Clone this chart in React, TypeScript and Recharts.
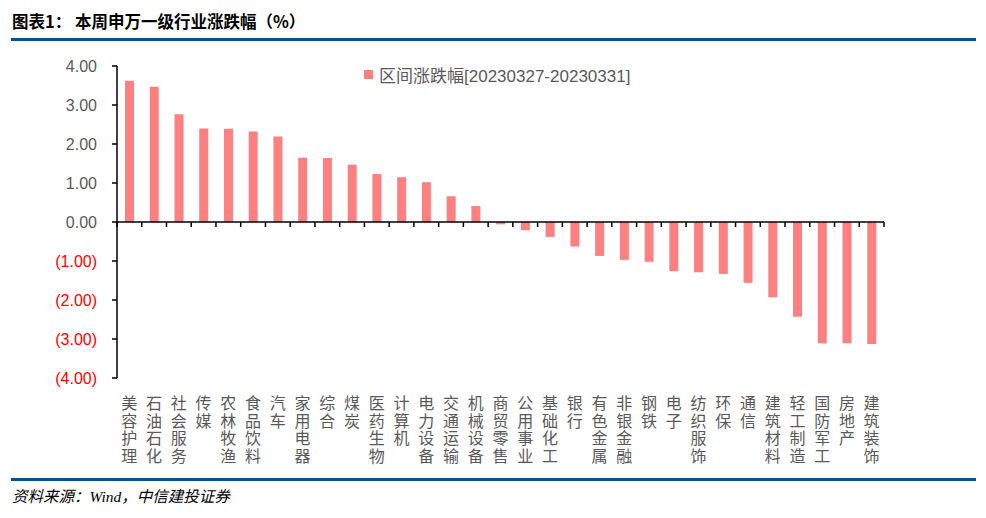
import React from "react";
import { BarChart, Bar, XAxis, YAxis, ReferenceLine } from "recharts";

const categories = [
  "美容护理", "石油石化", "社会服务", "传媒", "农林牧渔", "食品饮料", "汽车", "家用电器",
  "综合", "煤炭", "医药生物", "计算机", "电力设备", "交通运输", "机械设备", "商贸零售",
  "公用事业", "基础化工", "银行", "有色金属", "非银金融", "钢铁", "电子", "纺织服饰",
  "环保", "通信", "建筑材料", "轻工制造", "国防军工", "房地产", "建筑装饰",
];
const changes = [
  3.62, 3.47, 2.76, 2.4, 2.39, 2.32, 2.19, 1.65, 1.64, 1.47, 1.23, 1.15, 1.02, 0.66, 0.41,
  -0.06, -0.21, -0.38, -0.63, -0.87, -0.97, -1.02, -1.26, -1.29, -1.33, -1.56, -1.93, -2.43,
  -3.11, -3.11, -3.13,
];
const yTicks = [4, 3, 2, 1, 0, -1, -2, -3, -4];
const seriesName = "区间涨跌幅[20230327-20230331]";

const data = categories.map((name, i) => ({ name, value: changes[i] }));

const GRAY = "#595959";
const BAR = "#FF8080";
const BLUE = "#0B5087";
const LATIN = "'Liberation Sans', 'Noto Sans CJK SC', sans-serif";

function fmt(v: number) {
  return v < 0 ? `(${Math.abs(v).toFixed(2)})` : v.toFixed(2);
}

function YTick(props: any) {
  const { x, y, payload } = props;
  const v = payload.value as number;
  return (
    <text x={x} y={y} dy={6} textAnchor="end" fontSize={16} fontFamily={LATIN} fill={v < 0 ? "#FF0000" : GRAY}>
      {fmt(v)}
    </text>
  );
}

// one character per line, stacked under the category
function XTick(props: any) {
  const { x, y, payload } = props;
  const chars = String(payload.value).split("");
  return (
    <g>
      {chars.map((c, i) => (
        <text
          key={i}
          x={x}
          y={y + 31 + i * 17.5}
          textAnchor="middle"
          fontSize={16}
          fontFamily="'Noto Sans CJK SC', sans-serif"
          fill={GRAY}
        >
          {c}
        </text>
      ))}
    </g>
  );
}

function ZeroAxis(props: any) {
  const { x1, y1, x2, y2 } = props;
  const n = categories.length;
  const step = (x2 - x1) / n;
  const marks = [];
  for (let k = 0; k <= n; k++) {
    const tx = x1 + k * step;
    marks.push(<line key={k} x1={tx} x2={tx} y1={y1} y2={y1 + 5} stroke="#000" strokeWidth={1.5} />);
  }
  return (
    <g>
      <line x1={x1} y1={y1} x2={x2} y2={y2} stroke="#000" strokeWidth={1.5} />
      {marks}
    </g>
  );
}

export default function App() {
  return (
    <div style={{ position: "relative", width: 986, height: 518, margin: -8, background: "#fff", overflow: "hidden" }}>
      <div
        style={{
          position: "absolute",
          left: 12,
          top: 10,
          fontFamily: "'Noto Sans CJK SC', sans-serif",
          fontWeight: 700,
          fontSize: 16.5,
          color: "#000",
          lineHeight: "22px",
          whiteSpace: "nowrap",
        }}
      >
        图表1：&nbsp;本周申万一级行业涨跌幅（%）
      </div>
      <div style={{ position: "absolute", left: 11, top: 38, width: 965, height: 3, background: BLUE }} />

      <div style={{ position: "absolute", left: 0, top: 0 }}>
        <BarChart width={986} height={478} data={data} margin={{ top: 66, right: 102, bottom: 0, left: 0 }}>
          <YAxis
            width={117}
            domain={[-4, 4]}
            ticks={yTicks}
            interval={0}
            axisLine={{ stroke: "#000", strokeWidth: 1.5 }}
            tickLine={{ stroke: "#000", strokeWidth: 1.5 }}
            tickSize={5}
            tickMargin={15}
            tick={<YTick />}
          />
          <XAxis
            dataKey="name"
            height={100}
            interval={0}
            axisLine={false}
            tickLine={false}
            tickSize={0}
            tickMargin={0}
            tick={<XTick />}
          />
          <Bar dataKey="value" name={seriesName} fill={BAR} barSize={9} isAnimationActive={false} />
          <ReferenceLine y={0} shape={<ZeroAxis />} />
        </BarChart>
      </div>

      <div
        style={{
          position: "absolute",
          left: 364,
          top: 62,
          display: "flex",
          alignItems: "center",
          fontFamily: LATIN,
          fontSize: 17,
          color: GRAY,
          whiteSpace: "nowrap",
        }}
      >
        <span style={{ display: "inline-block", width: 9, height: 9, background: BAR, marginRight: 6 }} />
        <span>{seriesName}</span>
      </div>

      <div style={{ position: "absolute", left: 11, top: 478, width: 965, height: 2.5, background: BLUE }} />
      <div
        style={{
          position: "absolute",
          left: 12,
          top: 484,
          fontFamily: "'Liberation Serif', 'Noto Sans CJK SC', serif",
          fontStyle: "italic",
          fontSize: 15.5,
          color: "#000",
          whiteSpace: "nowrap",
        }}
      >
        资料来源：Wind，中信建投证券
      </div>
    </div>
  );
}
